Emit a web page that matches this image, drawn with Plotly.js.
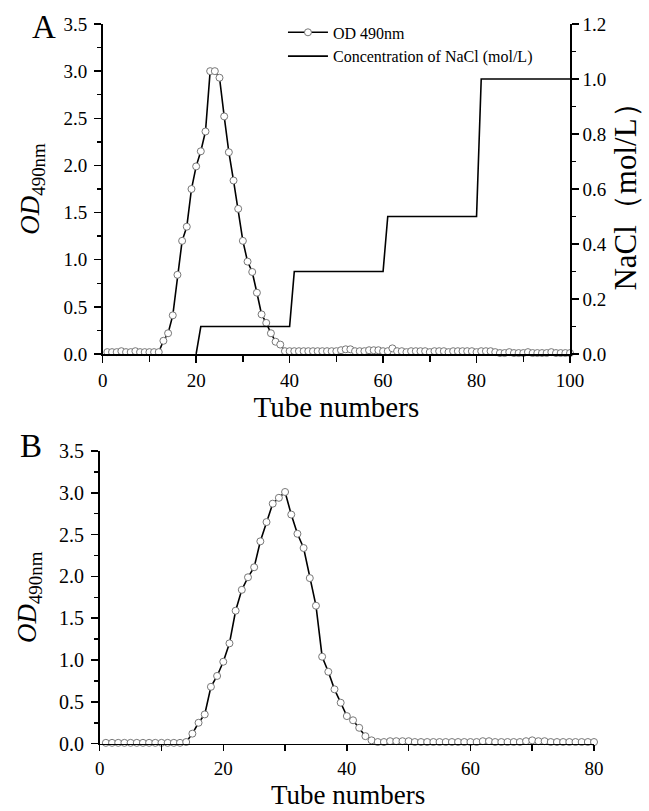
<!DOCTYPE html>
<html><head><meta charset="utf-8">
<script src="https://cdn.plot.ly/plotly-3.0.1.min.js"></script>
<style>html,body{margin:0;padding:0;background:#fff}</style>
</head><body><div id="chart" style="width:649px;height:811px"></div>
<script>
// Panel A: tube numbers and OD490 values
const tubesA = [1,2,3,4,5,6,7,8,9,10,11,12,13,14,15,16,17,18,19,20,21,22,23,24,25,26,27,28,29,30,31,32,33,34,35,36,37,38,39,40,41,42,43,44,45,46,47,48,49,50,51,52,53,54,55,56,57,58,59,60,61,62,63,64,65,66,67,68,69,70,71,72,73,74,75,76,77,78,79,80,81,82,83,84,85,86,87,88,89,90,91,92,93,94,95,96,97,98,99,100];
const odA = [0.02,0.02,0.02,0.03,0.02,0.02,0.03,0.02,0.02,0.02,0.02,0.02,
  0.14,0.22,0.41,0.84,1.20,1.35,1.75,1.99,2.15,2.36,3.00,3.00,2.93,2.52,2.14,1.84,1.54,1.20,0.98,0.87,0.65,0.42,0.33,0.22,0.13,0.10,
  0.03,0.03,0.03,0.03,0.03,0.03,0.03,0.03,0.03,0.03,0.03,0.03,
  0.04,0.05,0.05,0.03,0.03,0.03,0.04,0.04,0.04,0.03,0.03,0.06,
  0.03,0.03,0.02,0.03,0.03,0.03,0.03,0.02,0.03,0.03,0.03,0.02,0.03,0.03,0.03,0.03,0.03,0.02,0.03,0.03,0.03,
  0.02,0.01,0.01,0.02,0.01,0.01,0.01,0.02,0.01,0.01,0.01,0.01,0.02,0.01,0.01,0.01,0.01];
// NaCl step gradient (mol/L)
const naclTubes = [20,21,40,41,60,61,80,81,100];
const naclConc = [0,0.1,0.1,0.3,0.3,0.5,0.5,1.0,1.0];
// Panel B
const tubesB = [1,2,3,4,5,6,7,8,9,10,11,12,13,14,15,16,17,18,19,20,21,22,23,24,25,26,27,28,29,30,31,32,33,34,35,36,37,38,39,40,41,42,43,44,45,46,47,48,49,50,51,52,53,54,55,56,57,58,59,60,61,62,63,64,65,66,67,68,69,70,71,72,73,74,75,76,77,78,79,80];
const odB = [0.01,0.01,0.01,0.01,0.01,0.01,0.01,0.01,0.01,0.01,0.01,0.01,0.01,0.02,
  0.12,0.25,0.35,0.68,0.81,0.98,1.20,1.59,1.84,1.99,2.11,2.42,2.65,2.87,2.94,3.01,2.74,2.51,2.34,1.98,1.65,1.04,0.86,0.65,0.49,0.33,0.28,0.19,0.09,0.04,
  0.02,0.02,0.03,0.03,0.03,0.03,0.02,0.02,0.02,0.02,0.02,0.02,0.02,0.02,0.02,0.02,0.02,0.03,0.03,0.02,0.02,0.02,0.02,0.02,0.03,0.04,0.03,0.03,0.02,0.02,0.02,0.02,0.02,0.02,0.02,0.02];

const SERIF = '"Liberation Serif", "Times New Roman", serif';
const marker = {symbol:'circle', size:7, color:'#ffffff', line:{color:'#777777', width:1}};
const lineStyle = {color:'#000000', width:1.6};

const traces = [
  {x:tubesA, y:odA, xaxis:'x', yaxis:'y', mode:'lines+markers', name:'OD 490nm', line:lineStyle, marker:marker, cliponaxis:false},
  {x:naclTubes, y:naclConc, xaxis:'x', yaxis:'y3', mode:'lines', name:'Concentration of NaCl (mol/L)', line:{color:'#000000', width:1.6}, cliponaxis:false},
  {x:tubesB, y:odB, xaxis:'x2', yaxis:'y2', mode:'lines+markers', showlegend:false, line:lineStyle, marker:marker, cliponaxis:false}
];

function ax(extra){
  return Object.assign({
    showline:true, linecolor:'#000', linewidth:1.6, mirror:false,
    ticks:'outside', ticklen:7, tickwidth:1.5, tickcolor:'#000',
    showgrid:false, zeroline:false, tickfont:{family:SERIF, size:19, color:'#000'},
    fixedrange:true
  }, extra);
}

const layout = {
  width:649, height:811,
  margin:{l:0, r:0, t:0, b:0},
  paper_bgcolor:'#fff', plot_bgcolor:'#fff',
  font:{family:SERIF, color:'#000'},
  showlegend:true,
  legend:{x:0.436, y:0.981, xanchor:'left', yanchor:'top', bgcolor:'rgba(0,0,0,0)', font:{family:SERIF, size:16, color:'#000'}, tracegroupgap:0, itemwidth:40},
  xaxis: ax({domain:[0.1582,0.8783], anchor:'y', range:[0,100], dtick:20, tick0:0, ticklabelstandoff:2,
    minor:{dtick:10, ticklen:6, tickwidth:1.5, ticks:'outside', tickcolor:'#000'},
    title:{text:'Tube numbers', font:{family:SERIF, size:29}, standoff:4}}),
  yaxis: ax({domain:[0.5635,0.9704], anchor:'x', range:[0,3.5], dtick:0.5, tick0:0, tickformat:'.1f', ticklabelstandoff:3,
    minor:{dtick:0.25, ticklen:4, tickwidth:1.5, ticks:'outside', tickcolor:'#000'},
    title:{text:'<i>OD</i><sub>490nm</sub>', font:{family:SERIF, size:27}, standoff:16}}),
  yaxis3: ax({overlaying:'y', side:'right', anchor:'x', range:[0,1.2], dtick:0.2, tick0:0, tickformat:'.1f',
    minor:{dtick:0.1, ticklen:4, tickwidth:1.5, ticks:'outside', tickcolor:'#000'},
    title:{text:'NaCl（mol/L）', font:{family:SERIF, size:31}, standoff:8}}),
  xaxis2: ax({domain:[0.1536,0.9153], anchor:'y2', range:[0,80], dtick:20, tick0:0, ticklabelstandoff:1, ticklen:6,
    tickfont:{family:SERIF, size:19, color:'#000'},
    minor:{dtick:10, ticklen:6, tickwidth:1.5, ticks:'outside', tickcolor:'#000'}}),
  yaxis2: ax({domain:[0.083,0.4439], anchor:'x2', range:[0,3.5], dtick:0.5, tick0:0, tickformat:'.1f', ticklabelstandoff:3,
    tickfont:{family:SERIF, size:20, color:'#000'},
    minor:{dtick:0.25, ticklen:4, tickwidth:1.5, ticks:'outside', tickcolor:'#000'},
    title:{text:'<i>OD</i><sub>490nm</sub>', font:{family:SERIF, size:27}, standoff:14}}),
  annotations:[
    {text:'A', xref:'paper', yref:'paper', x:30/649, y:1-7/811, xanchor:'left', yanchor:'top', showarrow:false, font:{family:SERIF, size:33, color:'#000'}},
    {text:'B', xref:'paper', yref:'paper', x:18/649, y:1-426/811, xanchor:'left', yanchor:'top', showarrow:false, font:{family:SERIF, size:33, color:'#000'}},
    {text:'Tube numbers', xref:'paper', yref:'paper', x:348/649, y:0, xanchor:'center', yanchor:'bottom', showarrow:false, borderpad:0, font:{family:SERIF, size:27, color:'#000'}}
  ]
};

Plotly.newPlot('chart', traces, layout, {displayModeBar:false, staticPlot:true});
</script></body></html>
